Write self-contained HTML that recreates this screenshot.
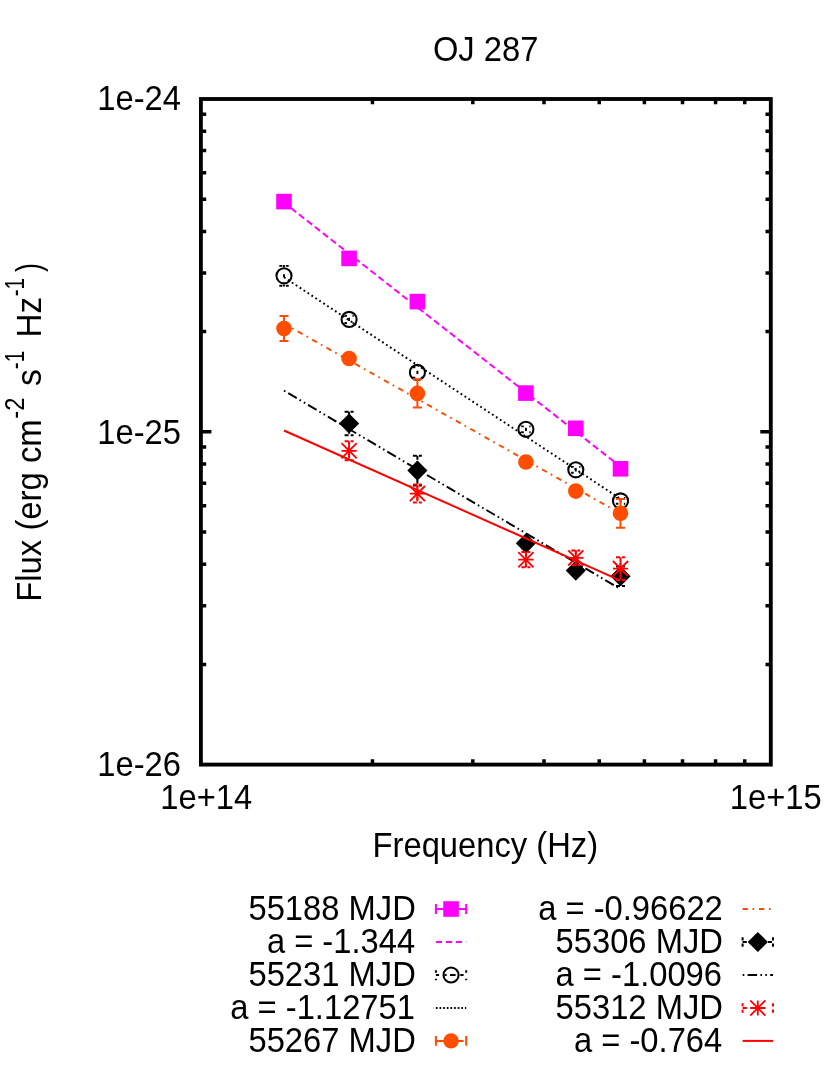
<!DOCTYPE html>
<html><head><meta charset="utf-8"><title>OJ 287</title>
<style>html,body{margin:0;padding:0;background:#fff;}svg{display:block;}text{font-family:"Liberation Sans",sans-serif;fill:#000;}svg{will-change:transform;}</style>
</head><body>
<svg width="830" height="1068" viewBox="0 0 830 1068">
<rect x="0" y="0" width="830" height="1068" fill="#fff"/>
<rect x="276.2" y="193.79999999999998" width="15.6" height="15.6" fill="#ff00ff"/>
<rect x="341.3" y="250.59999999999997" width="15.6" height="15.6" fill="#ff00ff"/>
<rect x="409.59999999999997" y="293.8" width="15.6" height="15.6" fill="#ff00ff"/>
<rect x="518.1" y="385.3" width="15.6" height="15.6" fill="#ff00ff"/>
<rect x="568.0" y="420.5" width="15.6" height="15.6" fill="#ff00ff"/>
<rect x="612.7" y="461.0" width="15.6" height="15.6" fill="#ff00ff"/>
<g fill="none">
<path d="M284.0,202.60 L620.5,466.70" stroke="#ff00ff" stroke-width="1.95" stroke-dasharray="6.6,3.5" stroke-dashoffset="1.2"/>
</g>
<path d="M279.3,265.90000000000003 h3.1 M285.9,265.90000000000003 h2.8 M279.3,285.7 h3.1 M285.9,285.7 h2.8 M284.0,265.00000000000006 v2.2 M284.0,286.59999999999997 v-2.2 M284.0,274.3 v3" fill="none" stroke="#000" stroke-width="1.9"/>
<circle cx="284.0" cy="275.8" r="7.55" fill="none" stroke="#000" stroke-width="2.05"/>
<path d="M344.40000000000003,315.79999999999995 h2.6 M352.5,315.79999999999995 h1.3 M344.40000000000003,323.0 h2.6 M352.5,323.0 h1.3 M349.1,317.79999999999995 v3.2" fill="none" stroke="#000" stroke-width="1.9"/>
<circle cx="349.1" cy="319.4" r="7.55" fill="none" stroke="#000" stroke-width="2.05"/>
<path d="M412.7,367.2 h2.6 M420.79999999999995,367.2 h1.3 M412.7,377.59999999999997 h2.6 M420.79999999999995,377.59999999999997 h1.3 M417.4,370.79999999999995 v3.2" fill="none" stroke="#000" stroke-width="1.9"/>
<circle cx="417.4" cy="372.4" r="7.55" fill="none" stroke="#000" stroke-width="2.05"/>
<path d="M521.1999999999999,426.40000000000003 h2.6 M529.3,426.40000000000003 h1.3 M521.1999999999999,432.2 h2.6 M529.3,432.2 h1.3 M525.9,427.7 v3.2" fill="none" stroke="#000" stroke-width="1.9"/>
<circle cx="525.9" cy="429.3" r="7.55" fill="none" stroke="#000" stroke-width="2.05"/>
<path d="M571.0999999999999,466.90000000000003 h2.6 M579.1999999999999,466.90000000000003 h1.3 M571.0999999999999,472.7 h2.6 M579.1999999999999,472.7 h1.3 M575.8,468.2 v3.2" fill="none" stroke="#000" stroke-width="1.9"/>
<circle cx="575.8" cy="469.8" r="7.55" fill="none" stroke="#000" stroke-width="2.05"/>
<path d="M615.8,498.0 h2.6 M623.9,498.0 h1.3 M615.8,503.79999999999995 h2.6 M623.9,503.79999999999995 h1.3 M620.5,499.29999999999995 v3.2" fill="none" stroke="#000" stroke-width="1.9"/>
<circle cx="620.5" cy="500.9" r="7.55" fill="none" stroke="#000" stroke-width="2.05"/>
<g fill="none">
<path d="M284.0,277.30 L620.5,498.86" stroke="#000" stroke-width="1.95" stroke-dasharray="1.8,2.9" stroke-dashoffset="0"/>
</g>
<path d="M284.0,316.1 V340.9 M279.5,316.1 H288.5 M279.5,340.9 H288.5" fill="none" stroke="#ff4d00" stroke-width="2"/>
<circle cx="284.0" cy="328.5" r="7.8" fill="#ff4d00"/>
<circle cx="349.1" cy="358.5" r="7.8" fill="#ff4d00"/>
<path d="M417.4,379.2 V407.59999999999997 M412.9,379.2 H421.9 M412.9,407.59999999999997 H421.9" fill="none" stroke="#ff4d00" stroke-width="2"/>
<circle cx="417.4" cy="393.4" r="7.8" fill="#ff4d00"/>
<circle cx="525.9" cy="462.0" r="7.8" fill="#ff4d00"/>
<circle cx="575.8" cy="491.1" r="7.8" fill="#ff4d00"/>
<path d="M620.5,498.9 V527.6999999999999 M616.0,498.9 H625.0 M616.0,527.6999999999999 H625.0" fill="none" stroke="#ff4d00" stroke-width="2"/>
<circle cx="620.5" cy="513.3" r="7.8" fill="#ff4d00"/>
<g fill="none">
<path d="M284.0,323.70 L620.5,513.57" stroke="#ff4d00" stroke-width="1.95" stroke-dasharray="5.5,4.5,1.7,4.8" stroke-dashoffset="0.7"/>
</g>
<path d="M349.1,411.8 V435.2 M344.6,411.8 H353.6 M344.6,435.2 H353.6" fill="none" stroke="#000" stroke-width="2" stroke-dasharray="4,2"/>
<path d="M349.1,413.4 L359.20000000000005,423.5 L349.1,433.6 L339.0,423.5 Z" fill="#000"/>
<path d="M417.4,455.8 V485.40000000000003 M412.9,455.8 H421.9 M412.9,485.40000000000003 H421.9" fill="none" stroke="#000" stroke-width="2" stroke-dasharray="4,2"/>
<path d="M417.4,460.5 L427.5,470.6 L417.4,480.70000000000005 L407.29999999999995,470.6 Z" fill="#000"/>
<path d="M525.9,538.3 V548.3 M521.4,538.3 H530.4 M521.4,548.3 H530.4" fill="none" stroke="#000" stroke-width="2" stroke-dasharray="4,2"/>
<path d="M525.9,533.1999999999999 L536.0,543.3 L525.9,553.4 L515.8,543.3 Z" fill="#000"/>
<path d="M575.8,566.6 V574.6 M571.3,566.6 H580.3 M571.3,574.6 H580.3" fill="none" stroke="#000" stroke-width="2" stroke-dasharray="4,2"/>
<path d="M575.8,560.5 L585.9,570.6 L575.8,580.7 L565.6999999999999,570.6 Z" fill="#000"/>
<path d="M620.5,566.4000000000001 V586.0 M616.0,566.4000000000001 H625.0 M616.0,586.0 H625.0" fill="none" stroke="#000" stroke-width="2" stroke-dasharray="4,2"/>
<path d="M620.5,566.1 L630.6,576.2 L620.5,586.3000000000001 L610.4,576.2 Z" fill="#000"/>
<g fill="none">
<path d="M284.0,390.70 L620.5,589.09" stroke="#000" stroke-width="1.95" stroke-dasharray="9.85,3.29,1.64,3.29,1.64,3.29" stroke-dashoffset="18.07"/>
</g>
<path d="M349.1,441.3 V460.3 M344.6,441.3 H353.6 M344.6,460.3 H353.6" fill="none" stroke="#ff0000" stroke-width="2" stroke-dasharray="4,2"/>
<path d="M349.1,443.2 V458.40000000000003 M341.5,443.2 L356.70000000000005,458.40000000000003 M341.5,458.40000000000003 L356.70000000000005,443.2 M341.5,450.8 H356.70000000000005" fill="none" stroke="#ff0000" stroke-width="1.8"/>
<path d="M417.4,484.6 V502.6 M412.9,484.6 H421.9 M412.9,502.6 H421.9" fill="none" stroke="#ff0000" stroke-width="2" stroke-dasharray="4,2"/>
<path d="M417.4,486.0 V501.20000000000005 M409.79999999999995,486.0 L425.0,501.20000000000005 M409.79999999999995,501.20000000000005 L425.0,486.0 M409.79999999999995,493.6 H425.0" fill="none" stroke="#ff0000" stroke-width="1.8"/>
<path d="M525.9,552.1 V567.3000000000001 M521.4,552.1 H530.4 M521.4,567.3000000000001 H530.4" fill="none" stroke="#ff0000" stroke-width="2" stroke-dasharray="4,2"/>
<path d="M525.9,552.1 V567.3000000000001 M518.3,552.1 L533.5,567.3000000000001 M518.3,567.3000000000001 L533.5,552.1 M518.3,559.7 H533.5" fill="none" stroke="#ff0000" stroke-width="1.8"/>
<path d="M575.8,550.6 V565.1999999999999 M571.3,550.6 H580.3 M571.3,565.1999999999999 H580.3" fill="none" stroke="#ff0000" stroke-width="2" stroke-dasharray="4,2"/>
<path d="M575.8,550.3 V565.5 M568.1999999999999,550.3 L583.4,565.5 M568.1999999999999,565.5 L583.4,550.3 M568.1999999999999,557.9 H583.4" fill="none" stroke="#ff0000" stroke-width="1.8"/>
<path d="M620.5,557.2 V580.0 M616.0,557.2 H625.0 M616.0,580.0 H625.0" fill="none" stroke="#ff0000" stroke-width="2" stroke-dasharray="4,2"/>
<path d="M620.5,561.0 V576.2 M612.9,561.0 L628.1,576.2 M612.9,576.2 L628.1,561.0 M612.9,568.6 H628.1" fill="none" stroke="#ff0000" stroke-width="1.8"/>
<g fill="none">
<path d="M284.0,430.50 L620.5,580.63" stroke="#ff0000" stroke-width="1.95"/>
</g>
<g fill="none" stroke="#000" stroke-width="3.5">
<path d="M372.46,764.6 v-5.3 M372.46,99.0 v5.3"/>
<path d="M472.81,764.6 v-5.3 M472.81,99.0 v5.3"/>
<path d="M544.01,764.6 v-5.3 M544.01,99.0 v5.3"/>
<path d="M599.24,764.6 v-5.3 M599.24,99.0 v5.3"/>
<path d="M644.37,764.6 v-5.3 M644.37,99.0 v5.3"/>
<path d="M682.52,764.6 v-5.3 M682.52,99.0 v5.3"/>
<path d="M715.57,764.6 v-5.3 M715.57,99.0 v5.3"/>
<path d="M744.72,764.6 v-5.3 M744.72,99.0 v5.3"/>
<path d="M200.9,331.62 h5.3 M770.8,331.62 h-5.3"/>
<path d="M200.9,273.01 h5.3 M770.8,273.01 h-5.3"/>
<path d="M200.9,231.43 h5.3 M770.8,231.43 h-5.3"/>
<path d="M200.9,199.18 h5.3 M770.8,199.18 h-5.3"/>
<path d="M200.9,172.83 h5.3 M770.8,172.83 h-5.3"/>
<path d="M200.9,150.55 h5.3 M770.8,150.55 h-5.3"/>
<path d="M200.9,131.25 h5.3 M770.8,131.25 h-5.3"/>
<path d="M200.9,114.23 h5.3 M770.8,114.23 h-5.3"/>
<path d="M200.9,664.42 h5.3 M770.8,664.42 h-5.3"/>
<path d="M200.9,605.81 h5.3 M770.8,605.81 h-5.3"/>
<path d="M200.9,564.23 h5.3 M770.8,564.23 h-5.3"/>
<path d="M200.9,531.98 h5.3 M770.8,531.98 h-5.3"/>
<path d="M200.9,505.63 h5.3 M770.8,505.63 h-5.3"/>
<path d="M200.9,483.35 h5.3 M770.8,483.35 h-5.3"/>
<path d="M200.9,464.05 h5.3 M770.8,464.05 h-5.3"/>
<path d="M200.9,447.03 h5.3 M770.8,447.03 h-5.3"/>
<path d="M200.9,431.80 h10.5 M770.8,431.80 h-10.5"/>
</g>
<rect x="200.9" y="99.0" width="569.9" height="665.6" fill="none" stroke="#000" stroke-width="3.85"/>
<text transform="translate(432.92,60.60) scale(1.023,1.115)" font-size="32">OJ 287</text>
<text transform="translate(97.34,110.40) scale(1.023,1.115)" font-size="32">1e-24</text>
<text transform="translate(97.34,443.50) scale(1.023,1.115)" font-size="32">1e-25</text>
<text transform="translate(97.34,776.00) scale(1.023,1.115)" font-size="32">1e-26</text>
<text transform="translate(160.25,809.30) scale(1.023,1.115)" font-size="32">1e+14</text>
<text transform="translate(729.80,809.30) scale(1.023,1.115)" font-size="32">1e+15</text>
<text transform="translate(372.60,857.40) scale(1.023,1.115)" font-size="32">Frequency (Hz)</text>
<g transform="translate(40.5,598.7) rotate(-90)">
<text transform="translate(-3.08,0) scale(1.0266,1.115)" font-size="32">Flux (erg cm</text>
<text transform="translate(180.03,-16.9) scale(0.9700,1.115)" font-size="24.5">-2</text>
<text transform="translate(212.74,0) scale(1.0571,1.115)" font-size="32">s</text>
<text transform="translate(229.56,-16.9) scale(0.8400,1.115)" font-size="24.5">-1</text>
<text transform="translate(261.29,0) scale(1.0371,1.115)" font-size="32">Hz</text>
<text transform="translate(302.35,-16.9) scale(0.8450,1.115)" font-size="24.5">-1</text>
<text transform="translate(326.60,0) scale(0.8444,1.115)" font-size="32">)</text>
</g>
<text transform="translate(248.47,920.40) scale(1.023,1.115)" font-size="32">55188 MJD</text>
<text transform="translate(266.89,953.20) scale(1.023,1.115)" font-size="32">a = -1.344</text>
<text transform="translate(248.47,986.00) scale(1.023,1.115)" font-size="32">55231 MJD</text>
<text transform="translate(230.28,1018.80) scale(1.023,1.115)" font-size="32">a = -1.12751</text>
<text transform="translate(248.47,1051.60) scale(1.023,1.115)" font-size="32">55267 MJD</text>
<text transform="translate(538.18,920.40) scale(1.023,1.115)" font-size="32">a = -0.96622</text>
<text transform="translate(555.57,953.20) scale(1.023,1.115)" font-size="32">55306 MJD</text>
<text transform="translate(555.57,986.00) scale(1.023,1.115)" font-size="32">a = -1.0096</text>
<text transform="translate(555.57,1018.80) scale(1.023,1.115)" font-size="32">55312 MJD</text>
<text transform="translate(573.99,1051.60) scale(1.023,1.115)" font-size="32">a = -0.764</text>
<g fill="none" stroke-width="2">
<path d="M435.9,942.0 H466.2" stroke="#ff00ff" stroke-dasharray="6.2,3.8"/>
<path d="M435.9,1008.0 H466.2" stroke="#000" stroke-dasharray="1.7,1.93"/>
<path d="M742.6,909.0 H773.0" stroke="#ff4d00" stroke-dasharray="5.3,4.6,1.7,4.8"/>
<path d="M742.6,975.0 H773.0" stroke="#000" stroke-dasharray="9.5,3.3,1.6,3.3,1.6,3.3" stroke-dashoffset="17.6"/>
<path d="M742.6,1040.9 H773.0" stroke="#ff0000"/>
</g>
<path d="M435.90,909.0 H466.20 M435.9,904.10 V913.90 M466.2,904.10 V913.90" fill="none" stroke="#ff00ff" stroke-width="2.0"/>
<rect x="443.24999999999994" y="901.2" width="15.6" height="15.6" fill="#ff00ff"/>
<path d="M435.90,975.0 H439.10 M444.40,975.0 H446.70 M450.00,975.0 H455.60 M460.30,975.0 H463.60 M435.9,970.30 V972.80 M435.9,978.70 V980.20 M466.2,970.30 V972.80 M466.2,978.70 V980.20" fill="none" stroke="#000" stroke-width="2.0"/>
<circle cx="451.04999999999995" cy="975.0" r="7.55" fill="none" stroke="#000" stroke-width="2.05"/>
<path d="M435.90,1040.9 H463.60 M435.9,1036.00 V1045.80 M466.2,1036.00 V1045.80" fill="none" stroke="#ff4d00" stroke-width="2.0"/>
<circle cx="451.04999999999995" cy="1040.9" r="7.7" fill="#ff4d00"/>
<path d="M742.60,942.0 H746.80 M768.00,942.0 H772.00 M742.6,937.20 V940.40 M742.6,943.60 V946.80 M773.0,937.20 V940.40 M773.0,943.60 V946.80" fill="none" stroke="#000" stroke-width="2.0"/>
<path d="M757.8,931.9 L767.9,942.0 L757.8,952.1 L747.6999999999999,942.0 Z" fill="#000"/>
<path d="M742.60,1008.0 H746.80 M742.6,1003.20 V1006.40 M742.6,1009.60 V1012.80 M773.0,1003.20 V1006.40 M773.0,1009.60 V1012.80" fill="none" stroke="#ff0000" stroke-width="2.0"/>
<path d="M757.8,1000.4 V1015.6 M750.1999999999999,1000.4 L765.4,1015.6 M750.1999999999999,1015.6 L765.4,1000.4 M750.1999999999999,1008.0 H765.4" fill="none" stroke="#ff0000" stroke-width="1.8"/>
</svg></body></html>
